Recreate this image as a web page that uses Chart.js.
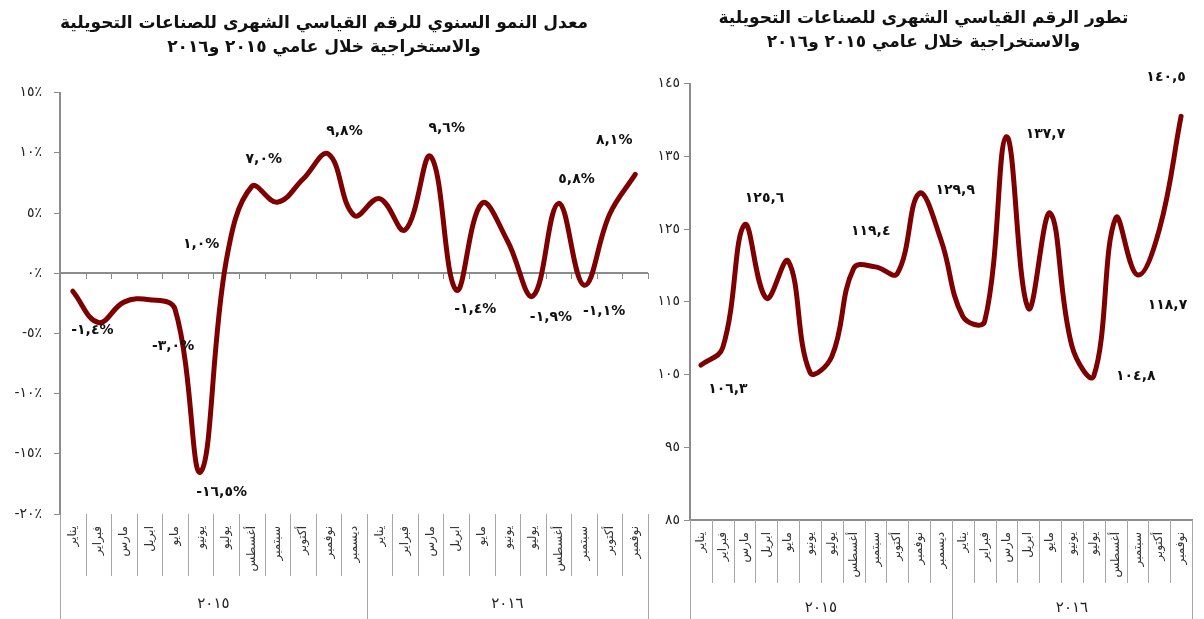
<!DOCTYPE html>
<html lang="ar">
<head>
<meta charset="utf-8">
<script src="https://cdn.jsdelivr.net/npm/chart.js@4.4.1/dist/chart.umd.min.js"></script>
<style>
  html, body { margin: 0; padding: 0; background: #fff; }
  body { width: 1204px; height: 619px; position: relative; overflow: hidden; }
  .caja { position: absolute; top: 0; height: 619px; }
  #cajaCrec { left: 0; width: 662px; }
  #cajaIndice { left: 655px; width: 549px; }
</style>
</head>
<body>
<div class="caja" id="cajaCrec"><canvas id="crecChart"></canvas></div>
<div class="caja" id="cajaIndice"><canvas id="indiceChart"></canvas></div>
<script>
// Datos
const meses = ["يناير", "فبراير", "مارس", "ابريل", "مايو", "يونيو", "يوليو", "أغسطس", "سبتمبر", "أكتوبر", "نوفمبر", "ديسمبر"];
const anios = ["٢٠١٥", "٢٠١٦"];
const categorias = [...meses, ...meses.slice(0, 11)];

// معدل النمو السنوي (%)
const crecimiento = [-1.5, -4.1, -2.4, -2.2, -3.0, -16.5, 1.0, 7.2, 5.9, 7.8, 9.9, 4.8,
  6.2, 3.6, 9.7, -1.4, 5.8, 2.7, -1.9, 5.8, -1.0, 4.9, 8.2];
const etiquetasCrec = [null, "-١,٤%", null, null, "-٣,٠%", "-١٦,٥%", "١,٠%", "٧,٠%", null, null, "٩,٨%", null,
  null, null, "٩,٦%", "-١,٤%", null, null, "-١,٩%", "٥,٨%", "-١,١%", null, "٨,١%"];

// الرقم القياسي الشهرى
const indice = [106.3, 108.7, 125.6, 115.5, 120.6, 105.3, 107.5, 119.6, 119.8, 118.9, 129.9, 123.5,
  113.0, 112.3, 137.7, 114.1, 127.2, 108.9, 104.8, 126.5, 118.7, 124.9, 140.5];
const etiquetasIndice = ["١٠٦,٣", null, "١٢٥,٦", null, null, null, null, "١١٩,٤", null, null, "١٢٩,٩", null,
  null, null, "١٣٧,٧", null, null, null, "١٠٤,٨", null, "١١٨,٧", null, "١٤٠,٥"];

const tituloCrec = ["معدل النمو السنوي للرقم القياسي الشهرى للصناعات التحويلية", "والاستخراجية خلال عامي ٢٠١٥ و٢٠١٦"];
const tituloIndice = ["تطور الرقم القياسي الشهرى للصناعات التحويلية", "والاستخراجية خلال عامي ٢٠١٥ و٢٠١٦"];

const FUENTE = '"DejaVu Sans", sans-serif';
const GRIS = "#8c8c8c";
const ROJO = "#7f0000";

// numeros con cifras arabes
function arabe(v) {
  return String(v).replace(/[0-9]/g, (d) => "٠١٢٣٤٥٦٧٨٩"[d]);
}

// etiquetas de valores junto a los puntos
const etiquetasPlugin = {
  id: "etiquetas",
  afterDatasetsDraw(chart, args, opts) {
    const ctx = chart.ctx;
    const meta = chart.getDatasetMeta(0);
    ctx.save();
    ctx.fillStyle = "#111";
    ctx.font = "bold 14px " + FUENTE;
    ctx.textAlign = "center";
    ctx.textBaseline = "middle";
    opts.textos.forEach((t, i) => {
      if (!t) return;
      const p = meta.data[i];
      const d = opts.desp[i] || [0, -20];
      ctx.fillText(t, p.x + d[0], p.y + d[1]);
    });
    ctx.restore();
  },
};

// separadores del eje de categorias y fila de anios
const separadoresPlugin = {
  id: "separadores",
  beforeDatasetsDraw(chart, args, opts) {
    if (!opts.cero) return;
    const ctx = chart.ctx;
    const x = chart.scales.x;
    const y0 = Math.round(chart.scales.y.getPixelForValue(0));
    ctx.save();
    ctx.strokeStyle = GRIS;
    ctx.lineWidth = 2;
    ctx.beginPath();
    ctx.moveTo(chart.chartArea.left, y0);
    ctx.lineTo(chart.chartArea.right, y0);
    ctx.stroke();
    ctx.lineWidth = 1;
    for (let k = 1; k <= categorias.length; k++) {
      const px = Math.round(x.getPixelForValue(k - 0.5)) + 0.5;
      ctx.beginPath();
      ctx.moveTo(px, y0);
      ctx.lineTo(px, y0 + 6);
      ctx.stroke();
    }
    ctx.restore();
  },
  afterDraw(chart, args, opts) {
    const ctx = chart.ctx;
    const x = chart.scales.x;
    const top = chart.chartArea.bottom;
    const n = categorias.length;
    ctx.save();
    ctx.strokeStyle = "#a6a6a6";
    ctx.lineWidth = 1;
    for (let k = 0; k <= n; k++) {
      const px = Math.round(x.getPixelForValue(k - 0.5)) + 0.5;
      const largo = k === 0 || k === 12 || k === n ? opts.fondo : opts.fila;
      ctx.beginPath();
      ctx.moveTo(px, top);
      ctx.lineTo(px, top + largo);
      ctx.stroke();
    }
    ctx.fillStyle = "#222";
    ctx.font = "15px " + FUENTE;
    ctx.textAlign = "center";
    ctx.textBaseline = "middle";
    anios.forEach((a, j) => {
      const ini = j === 0 ? 0 : 12;
      const fin = j === 0 ? 12 : n;
      const cx = (x.getPixelForValue(ini - 0.5) + x.getPixelForValue(fin - 0.5)) / 2;
      ctx.fillText(a, cx, top + opts.yAnio);
    });
    ctx.restore();
  },
};

function ejeX(alto, borde) {
  return {
    offset: true,
    grid: { display: false },
    border: { display: borde, color: GRIS, width: 2 },
    ticks: {
      autoSkip: false,
      minRotation: 90,
      maxRotation: 90,
      padding: 4,
      color: "#333",
      font: { family: FUENTE, size: 12 },
    },
    afterFit: (s) => { s.height = alto; },
  };
}

function opcionesTitulo(texto, arriba, abajo) {
  return {
    display: true,
    text: texto,
    color: "#111",
    font: { family: FUENTE, size: 17, weight: "bold", lineHeight: 1.4 },
    padding: { top: arriba, bottom: abajo },
  };
}

new Chart(document.getElementById("crecChart"), {
  type: "line",
  data: {
    labels: categorias,
    datasets: [{
      data: crecimiento,
      borderColor: ROJO,
      borderWidth: 5,
      borderCapStyle: "round",
      pointRadius: 0,
      tension: 0.4,
      fill: false,
    }],
  },
  options: {
    responsive: true,
    maintainAspectRatio: false,
    animation: false,
    layout: { padding: { left: 0, right: 14, top: 0, bottom: 0 } },
    plugins: {
      legend: { display: false },
      tooltip: { enabled: false },
      title: opcionesTitulo(tituloCrec, 12, 33),
      etiquetas: {
        textos: etiquetasCrec,
        desp: { 1: [-6, 8], 4: [-2, 37], 5: [21, 20], 6: [-25, -17], 7: [12, -27], 10: [16, -23],
          14: [16, -28], 15: [19, 19], 18: [18, 21], 19: [18, -24], 20: [20, 26], 22: [-21, -34] },
      },
      separadores: { cero: true, fila: 62, fondo: 105, yAnio: 90 },
    },
    scales: {
      x: ejeX(105, false),
      y: {
        min: -20,
        max: 15,
        grid: { drawOnChartArea: false, color: GRIS, tickLength: 6, lineWidth: 1 },
        border: { display: true, color: GRIS, width: 2 },
        ticks: {
          stepSize: 5,
          padding: 12,
          color: "#222",
          font: { family: FUENTE, size: 14 },
          callback: (v) => arabe(v) + "٪",
        },
        afterFit: (s) => { s.width = 60; },
      },
    },
  },
  plugins: [etiquetasPlugin, separadoresPlugin],
});

new Chart(document.getElementById("indiceChart"), {
  type: "line",
  data: {
    labels: categorias,
    datasets: [{
      data: indice,
      borderColor: ROJO,
      borderWidth: 5,
      borderCapStyle: "round",
      pointRadius: 0,
      tension: 0.4,
      fill: false,
    }],
  },
  options: {
    responsive: true,
    maintainAspectRatio: false,
    animation: false,
    layout: { padding: { left: 0, right: 12, top: 0, bottom: 0 } },
    plugins: {
      legend: { display: false },
      tooltip: { enabled: false },
      title: opcionesTitulo(tituloIndice, 7, 29),
      etiquetas: {
        textos: etiquetasIndice,
        desp: { 0: [27, 24], 2: [20, -26], 7: [17, -37], 10: [36, -3], 14: [39, -2],
          18: [42, 0], 20: [30, 30], 22: [-15, -39] },
      },
      separadores: { cero: false, fila: 63, fondo: 99, yAnio: 88 },
    },
    scales: {
      x: ejeX(99, true),
      y: {
        min: 85,
        max: 145,
        grid: { drawOnChartArea: false, color: GRIS, tickLength: 6, lineWidth: 1 },
        border: { display: true, color: GRIS, width: 2 },
        ticks: {
          stepSize: 10,
          padding: 4,
          color: "#222",
          font: { family: FUENTE, size: 14 },
          callback: (v) => arabe(v),
        },
        afterFit: (s) => { s.width = 35; },
      },
    },
  },
  plugins: [etiquetasPlugin, separadoresPlugin],
});
</script>
</body>
</html>
